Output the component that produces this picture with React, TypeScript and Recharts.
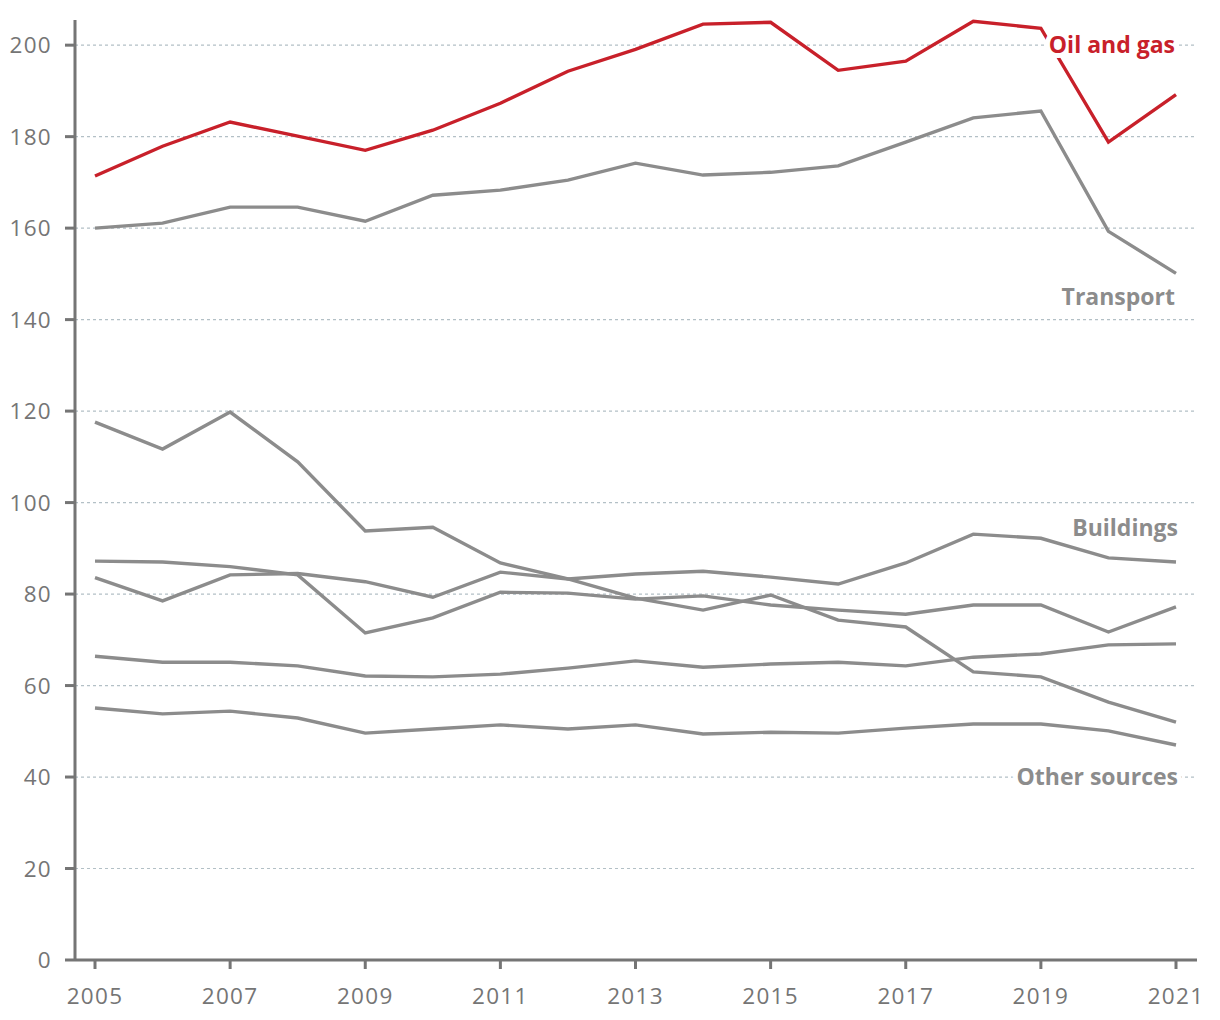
import React from 'react';
import { LineChart, Line, XAxis, YAxis, CartesianGrid, ReferenceDot } from 'recharts';

const years = [2005, 2006, 2007, 2008, 2009, 2010, 2011, 2012, 2013, 2014, 2015, 2016, 2017, 2018, 2019, 2020, 2021];
const oilGas = [171.4, 177.9, 183.2, 180.1, 177.0, 181.4, 187.3, 194.3, 199.1, 204.6, 205.0, 194.5, 196.5, 205.2, 203.7, 178.8, 189.2];
const transport = [160.0, 161.1, 164.6, 164.6, 161.5, 167.2, 168.3, 170.5, 174.2, 171.6, 172.2, 173.6, 178.8, 184.1, 185.6, 159.3, 150.1];
const electricity = [117.6, 111.7, 119.8, 108.9, 93.8, 94.6, 86.8, 83.3, 79.1, 76.5, 79.8, 74.3, 72.8, 63.0, 61.9, 56.4, 52.0];
const buildings = [83.6, 78.5, 84.2, 84.5, 82.7, 79.3, 84.8, 83.3, 84.4, 85.0, 83.7, 82.2, 86.8, 93.1, 92.2, 87.9, 87.0];
const heavyIndustry = [87.2, 87.0, 86.0, 84.2, 71.5, 74.8, 80.4, 80.2, 78.9, 79.6, 77.6, 76.5, 75.6, 77.6, 77.6, 71.7, 77.2];
const agriculture = [66.4, 65.1, 65.1, 64.3, 62.1, 61.9, 62.5, 63.8, 65.4, 64.0, 64.7, 65.1, 64.3, 66.2, 66.9, 68.9, 69.1];
const otherSources = [55.1, 53.8, 54.4, 52.9, 49.6, 50.5, 51.4, 50.5, 51.4, 49.4, 49.8, 49.6, 50.7, 51.6, 51.6, 50.1, 47.0];

const yTicks = [0, 20, 40, 60, 80, 100, 120, 140, 160, 180, 200];
const gridValues = [20, 40, 60, 80, 100, 120, 140, 160, 180, 200];
const yMax = 205.5;

// series labels and their anchor values on the y axis
const labelTexts = ['Oil and gas', 'Transport', 'Buildings', 'Other sources'];
const labelAnchors = [200, 145.1, 94.4, 40];

const RED = '#c8202a';
const GRAY = '#8c8c8c';
const AXIS = '#757575';
const labelColors = [RED, GRAY, GRAY, GRAY];

const data = years.map((year, i) => ({
  year,
  oilGas: oilGas[i],
  transport: transport[i],
  electricity: electricity[i],
  buildings: buildings[i],
  heavyIndustry: heavyIndustry[i],
  agriculture: agriculture[i],
  otherSources: otherSources[i],
}));

const SeriesLabel = (props: any) => {
  const { viewBox, text, color, dx = 0 } = props;
  if (!viewBox) return null;
  const cx = viewBox.x + (viewBox.width || 0) / 2;
  const cy = viewBox.y + (viewBox.height || 0) / 2;
  return (
    <text
      x={cx + dx}
      y={cy}
      dy="0.36em"
      textAnchor="end"
      fill={color}
      stroke="#ffffff"
      strokeWidth={10}
      strokeLinejoin="round"
      paintOrder="stroke"
      style={{ fontFamily: 'Open Sans', fontWeight: 700, fontSize: 23 }}
    >
      {text}
    </text>
  );
};

const grayKeys = ['electricity', 'heavyIndustry', 'agriculture', 'otherSources', 'buildings', 'transport'];

export default function App() {
  return (
    <div style={{ position: 'absolute', left: 0, top: 0, width: 1220, height: 1020, background: '#ffffff' }}>
      <LineChart width={1220} height={1020} data={data} margin={{ top: 20, right: 23, bottom: 0, left: 0 }}>
        <CartesianGrid
          vertical={false}
          horizontalValues={gridValues}
          stroke="#b3c0c6"
          strokeDasharray="3 3"
          strokeWidth={1.2}
        />
        <XAxis
          dataKey="year"
          padding={{ left: 20, right: 21 }}
          interval={1}
          height={60}
          tickSize={9}
          tickMargin={19}
          axisLine={{ stroke: AXIS, strokeWidth: 3 }}
          tickLine={{ stroke: AXIS, strokeWidth: 3 }}
          tick={{ fill: AXIS, fontSize: 22.5, fontFamily: 'Open Sans', letterSpacing: 1.3 }}
        />
        <YAxis
          domain={[0, yMax]}
          ticks={yTicks}
          width={75}
          tickSize={10}
          tickMargin={13}
          axisLine={{ stroke: AXIS, strokeWidth: 3 }}
          tickLine={{ stroke: AXIS, strokeWidth: 3 }}
          tick={{ fill: AXIS, fontSize: 22.5, fontFamily: 'Open Sans', letterSpacing: 1.3 }}
        />
        {grayKeys.map((k) => (
          <Line key={k} type="linear" dataKey={k} stroke={GRAY} strokeWidth={3.4} dot={false} activeDot={false} isAnimationActive={false} />
        ))}
        <Line type="linear" dataKey="oilGas" stroke={RED} strokeWidth={3.4} dot={false} activeDot={false} isAnimationActive={false} />
        {labelTexts.map((t, i) => (
          <ReferenceDot
            key={t}
            x={2021}
            y={labelAnchors[i]}
            r={0}
            fill="none"
            stroke="none"
            ifOverflow="visible"
            label={<SeriesLabel text={t} color={labelColors[i]} dx={i < 2 ? -1 : 2} />}
          />
        ))}
      </LineChart>
    </div>
  );
}
